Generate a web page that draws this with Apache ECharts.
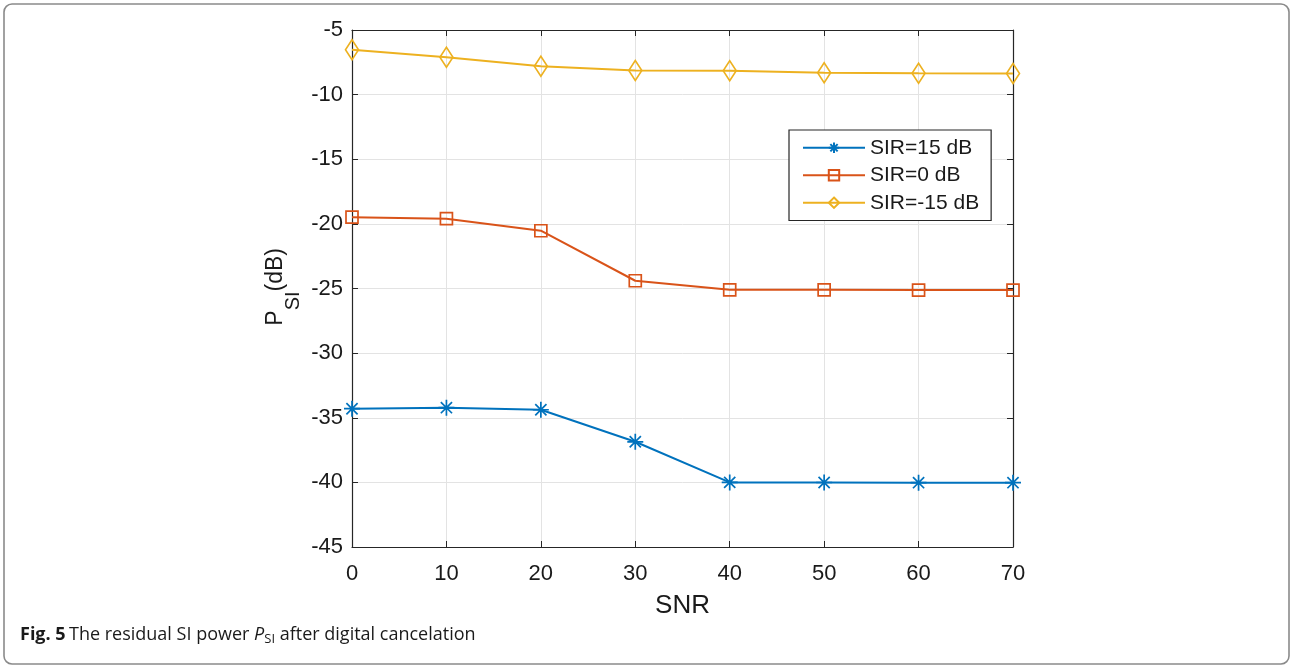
<!DOCTYPE html>
<html><head><meta charset="utf-8">
<script src="https://cdn.jsdelivr.net/npm/echarts@6/dist/echarts.min.js"></script>
<style>html,body{margin:0;padding:0;background:#fff}#c{width:1290px;height:666px}</style>
</head><body><div id="c"></div>
<script>
var snr = [0, 10, 20, 30, 40, 50, 60, 70];
var sir15 = [-34.3, -34.22, -34.38, -36.86, -40.0, -40.01, -40.02, -40.02];
var sir0 = [-19.48, -19.6, -20.53, -24.4, -25.1, -25.1, -25.12, -25.12];
var sirM15 = [-6.53, -7.1, -7.8, -8.13, -8.16, -8.31, -8.34, -8.36];
var seriesNames = ['SIR=15 dB', 'SIR=0 dB', 'SIR=-15 dB'];
var colors = ['#0072BD', '#D95319', '#EDB120'];

function pairs(ys){ return snr.map(function(x,i){ return [x, ys[i]]; }); }
var FONT = 'Liberation Sans';
var chart = echarts.init(document.getElementById('c'));
var asterisk = 'path://M10,0 L10,20 M0,10 L20,10 M3,3 L17,17 M17,3 L3,17';
function tick(){ return {show:true, inside:true, length:6, lineStyle:{color:'#262626', width:1}}; }
function aline(){ return {show:true, onZero:false, lineStyle:{color:'#262626', width:1.2}}; }
chart.setOption({
  animation:false,
  color: colors,
  grid:{left:352, top:30, right:277, bottom:119, containLabel:false},
  xAxis:[{
    type:'value', min:0, max:70, interval:10, position:'bottom',
    axisLine:aline(), axisTick:tick(),
    axisLabel:{fontFamily:FONT, fontSize:22, color:'#1a1a1a', margin:16},
    splitLine:{show:true, lineStyle:{color:'#e3e3e3', width:1}},
    name:'SNR', nameLocation:'middle', nameGap:46,
    nameTextStyle:{fontFamily:FONT, fontSize:26, color:'#1a1a1a'}
  },{
    type:'value', min:0, max:70, interval:10, position:'top',
    axisLine:aline(), axisTick:tick(), axisLabel:{show:false}, splitLine:{show:false}
  }],
  yAxis:[{
    type:'value', min:-45, max:-5, interval:5, position:'left',
    axisLine:aline(), axisTick:tick(),
    axisLabel:{fontFamily:FONT, fontSize:22, color:'#1a1a1a', margin:9},
    splitLine:{show:true, lineStyle:{color:'#e3e3e3', width:1}}
  },{
    type:'value', min:-45, max:-5, interval:5, position:'right',
    axisLine:aline(), axisTick:tick(), axisLabel:{show:false}, splitLine:{show:false}
  }],
  legend:{
    orient:'vertical', left:789, top:130,
    padding:[4, 12, 4, 13], itemGap:0, itemWidth:62, itemHeight:13,
    borderColor:'#262626', borderWidth:1.2, borderRadius:0, backgroundColor:'#fff',
    textStyle:{fontFamily:FONT, fontSize:21, color:'#1a1a1a', lineHeight:27.5},
    data: seriesNames
  },
  series:[{
    name:seriesNames[0], type:'line', data:pairs(sir15),
    symbol:asterisk, symbolSize:16,
    lineStyle:{color:colors[0], width:2},
    itemStyle:{color:'rgba(0,0,0,0)', borderColor:colors[0], borderWidth:1.7}
  },{
    name:seriesNames[1], type:'line', data:pairs(sir0),
    symbol:'rect', symbolSize:12,
    lineStyle:{color:colors[1], width:2},
    itemStyle:{color:'rgba(0,0,0,0)', borderColor:colors[1], borderWidth:1.7}
  },{
    name:seriesNames[2], type:'line', data:pairs(sirM15),
    symbol:'diamond', symbolSize:[13,20],
    lineStyle:{color:colors[2], width:2},
    itemStyle:{color:'rgba(0,0,0,0)', borderColor:colors[2], borderWidth:1.7}
  }],
  graphic:[
    {type:'rect', shape:{x:4, y:4, width:1285, height:660, r:8}, style:{fill:'none', stroke:'#8a8a8a', lineWidth:1.6}, silent:true, z:-10},
    {type:'text', left:264, top:248, rotation:Math.PI/2, style:{
      text:'{a|P}{b|SI}{a|(dB)}', rich:{
        a:{fontFamily:FONT, fontSize:23, fill:'#1a1a1a', lineHeight:39, verticalAlign:'top'},
        b:{fontFamily:FONT, fontSize:20, fill:'#1a1a1a', lineHeight:39, verticalAlign:'bottom'}
      }}},
    {type:'text', left:20, top:626, style:{
      text:'{b|Fig. 5} {n|The residual SI power }{i|P}{s|SI}{n| after digital cancelation}', rich:{
        b:{fontFamily:'Open Sans', fontWeight:'bold', fontSize:18, fill:'#1a1a1a', lineHeight:22},
        n:{fontFamily:'Open Sans', fontSize:18, fill:'#1a1a1a', lineHeight:22},
        i:{fontFamily:'Open Sans', fontStyle:'italic', fontSize:18, fill:'#1a1a1a', lineHeight:22},
        s:{fontFamily:'Open Sans', fontSize:13, fill:'#1a1a1a', lineHeight:22, verticalAlign:'bottom', padding:[7,0,0,0]}
      }}}
  ]
});
</script></body></html>
